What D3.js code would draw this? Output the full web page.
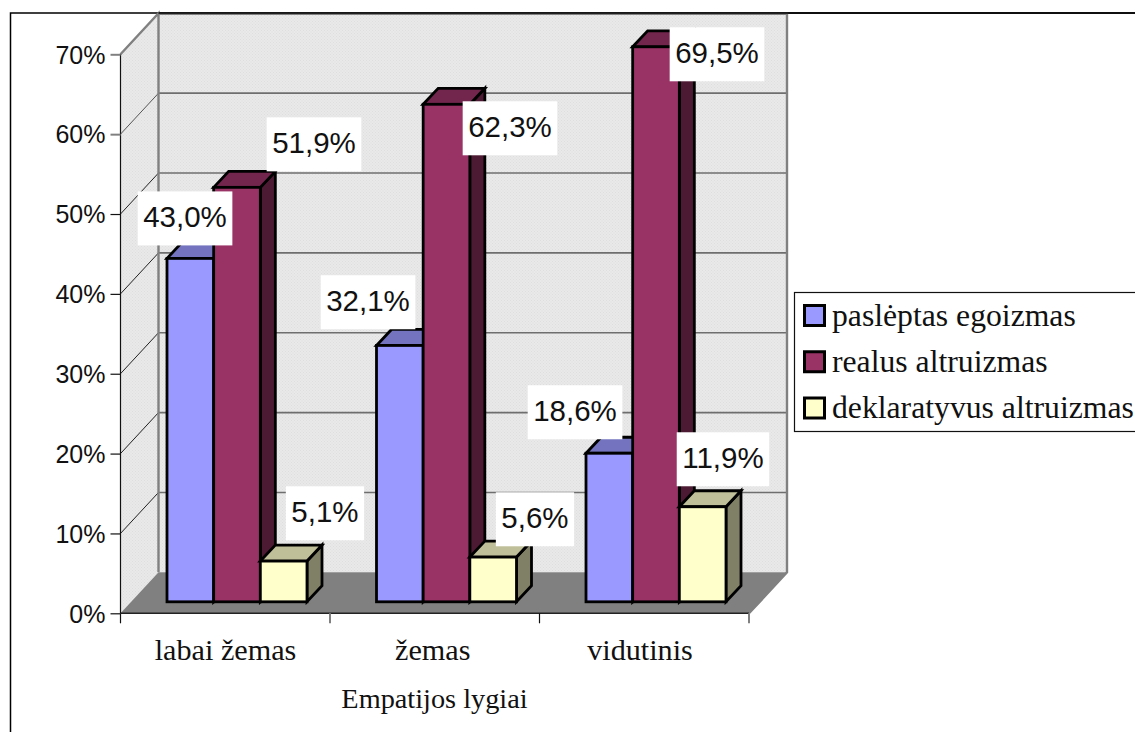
<!DOCTYPE html>
<html>
<head>
<meta charset="utf-8">
<style>html,body{margin:0;padding:0;background:#fff;overflow:hidden}svg{display:block}</style>
<script src="https://cdn.jsdelivr.net/npm/d3@7"></script>
</head>
<body>
<svg id="c" width="1135" height="732"></svg>
<script>
const categories = ["labai žemas", "žemas", "vidutinis"];
const seriesNames = ["paslėptas egoizmas", "realus altruizmas", "deklaratyvus altruizmas"];
const egoizmas = [43.0, 32.1, 18.6];
const realus = [51.9, 62.3, 69.5];
const deklaratyvus = [5.1, 5.6, 11.9];
const yTicks = [0, 10, 20, 30, 40, 50, 60, 70];
const axisTitle = "Empatijos lygiai";
const seriesValues = [egoizmas, realus, deklaratyvus];

// layout (not data)
const fills = [
  {front:"#9999FF", top:"#7373BF", side:"#4D4D80"},
  {front:"#993366", top:"#73264D", side:"#4D1A33"},
  {front:"#FFFFCC", top:"#BFBF99", side:"#808066"}
];
const labelNudges = [
  [[-5.3,-40],[-31.8,-43.2],[-34.3,-41]],
  [[77,-43],[63.5,24],[61,7.5]],
  [[41.3,-47.8],[41.8,-37.8],[20.3,-47.5]]
];
const sans = "'Liberation Sans', Arial, sans-serif";
const serif = "'Liberation Serif', 'Times New Roman', serif";
const wallDx = 38, wallDy = 41, barInset = 11.5, barDepthX = 15, barDepthY = 16;

const svg = d3.select("#c");
const defs = svg.append("defs");
const pat = defs.append("pattern").attr("id","dots").attr("width",3).attr("height",3).attr("patternUnits","userSpaceOnUse");
pat.append("rect").attr("width",3).attr("height",3).attr("fill","#e9e9e9");
pat.append("rect").attr("width",1).attr("height",1).attr("fill","#dedede");
pat.append("rect").attr("x",1.5).attr("y",1.5).attr("width",1).attr("height",1).attr("fill","#dedede");

const y = d3.scaleLinear().domain([0,70]).range([613.3,54.3]);
const x0 = d3.scaleBand().domain(categories).range([120.5,749]);
const labelX = d3.scalePoint().domain(categories).range([225.5,640]);
const poly = (pts) => pts.map(p=>p.join(",")).join(" ");
const L = x0.range()[0], R = x0.range()[1];
const Y0 = y(0), Y70 = y(70);

// frame
svg.append("path").attr("d","M10.5,740V13H1140").attr("fill","none").attr("stroke","#000").attr("stroke-width",1.5);

// walls
svg.append("polygon").attr("points",poly([[L+wallDx,Y70-wallDy],[R+wallDx,Y70-wallDy],[R+wallDx,Y0-wallDy],[L+wallDx,Y0-wallDy]])).attr("fill","url(#dots)");
svg.append("polygon").attr("points",poly([[L,Y70],[L+wallDx,Y70-wallDy],[L+wallDx,Y0-wallDy],[L,Y0]])).attr("fill","url(#dots)");
// floor
svg.append("polygon").attr("points",poly([[L,Y0],[L+wallDx,Y0-wallDy],[R+wallDx,Y0-wallDy],[R,Y0]])).attr("fill","#808080");

// grid
yTicks.filter(t=>t>0 && t<70).forEach(t=>{
  svg.append("line").attr("x1",L+wallDx).attr("x2",R+wallDx).attr("y1",y(t)-wallDy).attr("y2",y(t)-wallDy).attr("stroke","#6e6e6e").attr("stroke-width",1.6);
  svg.append("line").attr("x1",L).attr("x2",L+wallDx).attr("y1",y(t)).attr("y2",y(t)-wallDy).attr("stroke",t==60||t==70?"#555":"#222").attr("stroke-width",1);
});
// wall edges
const edge = "#808080";
svg.append("path").attr("d",`M${L},${Y70}L${L+wallDx},${Y70-wallDy}V${Y0-wallDy}`).attr("fill","none").attr("stroke",edge).attr("stroke-width",2.4);
svg.append("path").attr("d",`M${L+wallDx},${Y70-wallDy+0.5}H${R+wallDx}V${Y0-wallDy}L${R},${Y0}`).attr("fill","none").attr("stroke",edge).attr("stroke-width",2.4);
svg.append("line").attr("x1",L+wallDx).attr("x2",1135).attr("y1",13).attr("y2",13).attr("stroke","#000").attr("stroke-width",1.5);

// y axis
svg.append("line").attr("x1",L).attr("x2",L).attr("y1",Y70).attr("y2",Y0).attr("stroke","#111").attr("stroke-width",1.2);
const yAxis = svg.append("g").attr("transform",`translate(${L},0)`)
  .call(d3.axisLeft(y).tickValues(yTicks).tickFormat(d=>d+"%").tickSize(10).tickPadding(5));
yAxis.select(".domain").remove();
yAxis.selectAll("line").attr("stroke",d=>d>=60?"#808080":"#111").attr("stroke-width",d=>d>=60?2:1.2);
yAxis.selectAll("text").attr("font-family",sans).attr("font-size",25).attr("fill","#111").attr("dy","8.8px");

// x axis
svg.append("line").attr("x1",L).attr("x2",R).attr("y1",Y0).attr("y2",Y0).attr("stroke","#222").attr("stroke-width",1.4);
const xEdges = [L, ...categories.map(c=>x0(c)+x0.bandwidth())];
xEdges.forEach((e,i)=>{
  svg.append("line").attr("x1",e).attr("x2",e).attr("y1",Y0).attr("y2",Y0+10).attr("stroke",i%2?"#808080":"#111").attr("stroke-width",i%2?2:1.2);
});
categories.forEach(c=>{
  svg.append("text").attr("x",labelX(c)).attr("y",660).attr("text-anchor","middle")
    .attr("font-family",serif).attr("font-size",30.2).attr("fill","#111").text(c);
});
svg.append("text").attr("x",434.5).attr("y",708).attr("text-anchor","middle")
  .attr("font-family",serif).attr("font-size",28.3).attr("fill","#111").text(axisTitle);

// bars
const barW = 140/3, pad = 35;
const sub = d3.scaleBand().domain(seriesNames).range([0,barW*3]);
const anchors = [];
categories.forEach((c,ci)=>{
  seriesNames.forEach((s,si)=>{
    const v = seriesValues[si][ci];
    const xl = x0(c)+barInset+pad+sub(s), xr = xl+sub.bandwidth();
    const yt = y(v)-barInset, yb = y(0)-barInset;
    const g = svg.append("g").attr("stroke","#000").attr("stroke-width",2.8).attr("stroke-linejoin","miter");
    g.append("polygon").attr("points",poly([[xr,yt],[xr+barDepthX,yt-barDepthY],[xr+barDepthX,yb-barDepthY],[xr,yb]])).attr("fill",fills[si].side);
    g.append("polygon").attr("points",poly([[xl,yt],[xl+barDepthX,yt-barDepthY],[xr+barDepthX,yt-barDepthY],[xr,yt]])).attr("fill",fills[si].top);
    g.append("rect").attr("x",xl).attr("y",yt).attr("width",xr-xl).attr("height",yb-yt).attr("fill",fills[si].front);
    anchors.push({si,ci,v,cx:(xl+xr)/2,yt});
  });
});

// data labels
anchors.forEach(a=>{
  const [dx,dy] = labelNudges[a.si][a.ci];
  const g = svg.append("g").attr("transform",`translate(${a.cx+dx},${a.yt+dy})`);
  const r = g.append("rect").attr("fill","#fff");
  const t = g.append("text").attr("text-anchor","middle").attr("y",8.5).attr("font-family",sans).attr("font-size",29.5).attr("fill","#111")
    .text(a.v.toFixed(1).replace(".",",")+"%");
  const w = t.node().getComputedTextLength()+11;
  r.attr("x",-w/2).attr("y",-27).attr("width",w).attr("height",54);
});

// legend
svg.append("rect").attr("x",794.5).attr("y",292.5).attr("width",400).attr("height",139).attr("fill","#fff").attr("stroke","#111").attr("stroke-width",1.2);
const legY = d3.scalePoint().domain(seriesNames).range([315.5,408]);
seriesNames.forEach((s,i)=>{
  svg.append("rect").attr("x",804.5).attr("y",legY(s)-10).attr("width",20).attr("height",20).attr("fill",fills[i].front).attr("stroke","#000").attr("stroke-width",3);
  svg.append("text").attr("x",832).attr("y",legY(s)+10).attr("font-family",serif).attr("font-size",31.7).attr("fill","#111").text(s);
});
</script>
</body>
</html>
